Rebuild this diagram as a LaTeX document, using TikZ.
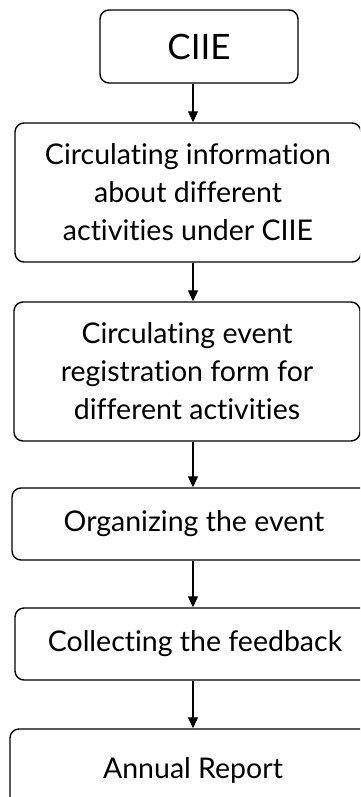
\documentclass[tikz,border=0pt]{standalone}
\usepackage{fontspec}
\setmainfont[Ligatures=NoCommon]{Lato}
\usetikzlibrary{arrows.meta}
\begin{document}
\begin{tikzpicture}[x=1pt,y=-1pt,
  box/.style={draw=black, line width=1.4pt, rounded corners=9pt, inner sep=0pt, align=center,
    font=\fontsize{28.5}{38}\selectfont},
  arr/.style={line width=1.2pt, -{Triangle[width=10pt,length=11pt]}}]
\path[use as bounding box] (0,0) rectangle (360,797);
\clip (0,0) rectangle (360,797);
\node[box, minimum width=198pt, minimum height=73pt, font=\fontsize{35}{38}\selectfont] (b1) at (199,46.5) {CIIE};
\node[box, minimum width=346pt, minimum height=139pt] (b2) at (188,192.5) {Circulating information\\about different\\activities under CIIE};
\node[box, minimum width=346pt, minimum height=139pt] (b3) at (187,371.5) {Circulating event\\registration form for\\different activities};
\node[box, minimum width=364pt, minimum height=72pt] (b4) at (194,524) {Organizing the event};
\node[box, minimum width=360pt, minimum height=72pt] (b5) at (195,644) {Collecting the feedback};
\node[box, minimum width=366pt, minimum height=82pt] (b6) at (193,770) {Annual Report};
\coordinate (x) at (193,0);
\draw[arr] (b1.south -| x) -- (b2.north -| x);
\draw[arr] (b2.south -| x) -- (b3.north -| x);
\draw[arr] (b3.south -| x) -- (b4.north -| x);
\draw[arr] (b4.south -| x) -- (b5.north -| x);
\draw[arr] (b5.south -| x) -- (b6.north -| x);
\end{tikzpicture}
\end{document}
